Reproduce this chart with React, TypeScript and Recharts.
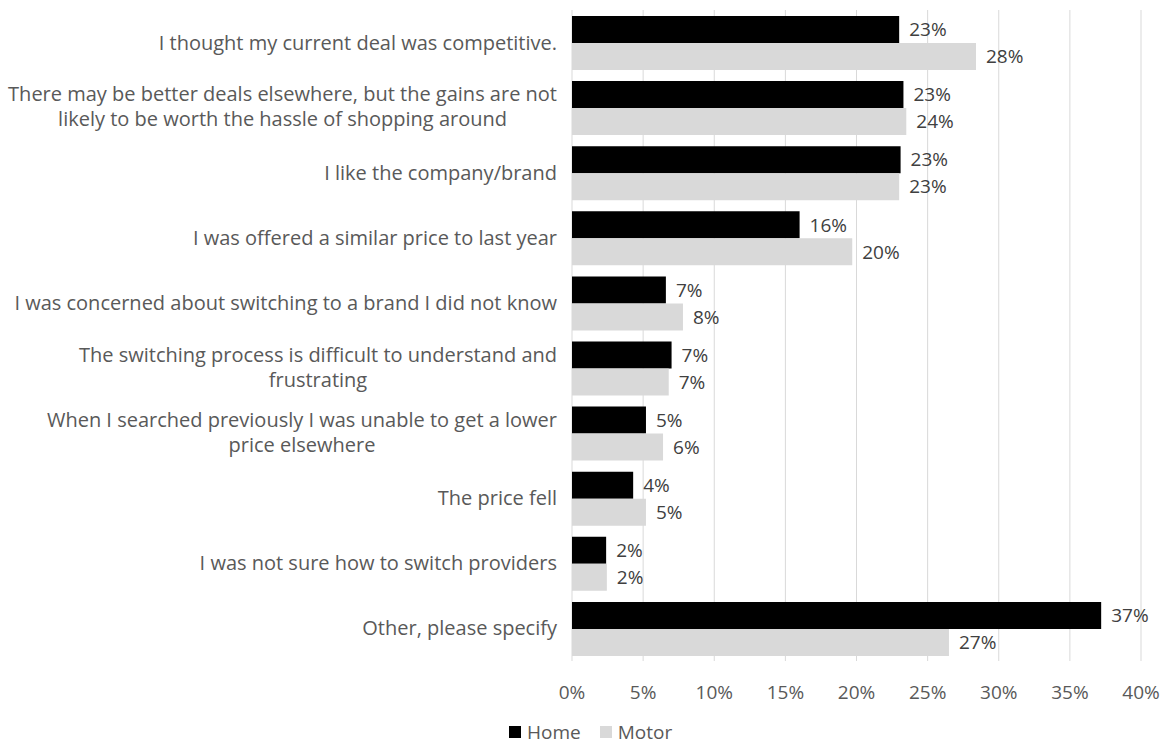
import React from 'react';
import { BarChart, Bar, XAxis, YAxis, CartesianGrid, LabelList, Legend } from 'recharts';

const categories = [
  'I thought my current deal was competitive.',
  'There may be better deals elsewhere, but the gains are not\nlikely to be worth the hassle of shopping around',
  'I like the company/brand',
  'I was offered a similar price to last year',
  'I was concerned about switching to a brand I did not know',
  'The switching process is difficult to understand and\nfrustrating',
  'When I searched previously I was unable to get a lower\nprice elsewhere',
  'The price fell',
  'I was not sure how to switch providers',
  'Other, please specify',
];
const homeValues = [23.0, 23.3, 23.1, 16.0, 6.6, 7.0, 5.2, 4.3, 2.4, 37.2];
const motorValues = [28.4, 23.5, 23.0, 19.7, 7.8, 6.8, 6.4, 5.2, 2.45, 26.5];
const xTicks = [0, 5, 10, 15, 20, 25, 30, 35, 40];
const seriesNames = ['Home', 'Motor'];
const seriesColors = ['#000000', '#d9d9d9'];

const data = categories.map((name, i) => ({ name, home: homeValues[i], motor: motorValues[i] }));

const FONT = 'Open Sans';
const FS = 19;
const CAT_FS = 20;
const TEXT = '#595959';
const LABEL = '#404040';

let ctx: CanvasRenderingContext2D | null = null;
function measure(t: string): number {
  if (!ctx) {
    const c = document.createElement('canvas');
    ctx = c.getContext('2d');
  }
  if (!ctx) return t.length * CAT_FS * 0.5;
  ctx.font = `${CAT_FS}px "${FONT}"`;
  return ctx.measureText(t).width;
}

const YTick = (props: any) => {
  const { x, y, payload } = props;
  const lines: string[] = String(payload.value).split('\n');
  const lh = 25;
  if (lines.length === 1) {
    return (
      <text x={x} y={y} dy="0.35em" textAnchor="end" fill={TEXT} fontSize={CAT_FS} fontFamily={FONT}>
        {lines[0]}
      </text>
    );
  }
  const maxW = Math.max(...lines.map(measure));
  const cx = x - maxW / 2;
  return (
    <g>
      {lines.map((l, i) => (
        <text key={i} x={cx} y={y + (i - (lines.length - 1) / 2) * lh - 1} dy="0.35em" textAnchor="middle" fill={TEXT} fontSize={CAT_FS} fontFamily={FONT}>
          {l}
        </text>
      ))}
    </g>
  );
};

const LegendContent = () => (
  <div style={{ display: 'flex', alignItems: 'center', paddingLeft: 509, paddingTop: 12, height: 24, fontFamily: FONT, fontSize: FS, color: TEXT }}>
    {seriesNames.map((n, i) => (
      <div key={n} style={{ display: 'flex', alignItems: 'center', marginRight: 19 }}>
        <div style={{ width: 12, height: 12, background: seriesColors[i], marginRight: 6 }} />
        <span>{n}</span>
      </div>
    ))}
  </div>
);

export default function App() {
  return (
    <div style={{ position: 'absolute', left: 0, top: 0, width: 1169, height: 744, background: '#fff' }}>
      <BarChart
        width={1169}
        height={744}
        data={data}
        layout="vertical"
        margin={{ top: 10, right: 28, left: 0, bottom: 0 }}
        barSize={27}
        barGap={0}
      >
        <CartesianGrid horizontal={false} vertical={true} stroke="#d9d9d9" />
        <XAxis
          type="number"
          domain={[0, 40]}
          ticks={xTicks}
          tickFormatter={(v: number) => `${v}%`}
          axisLine={false}
          tickLine={false}
          tickMargin={19}
          height={47}
          tick={{ fill: TEXT, fontSize: FS, fontFamily: FONT }}
          interval={0}
        />
        <YAxis
          type="category"
          dataKey="name"
          width={572}
          axisLine={false}
          tickLine={false}
          tickMargin={9}
          tick={<YTick />}
          interval={0}
        />
        <Legend verticalAlign="bottom" height={36} wrapperStyle={{ left: 0, width: 1169 }} content={<LegendContent />} />
        <Bar dataKey="home" name="Home" fill={seriesColors[0]} isAnimationActive={false}>
          <LabelList dataKey="home" position="right" offset={10} formatter={(v: any) => `${Math.round(Number(v))}%`} fill={LABEL} fontSize={FS} fontFamily={FONT} />
        </Bar>
        <Bar dataKey="motor" name="Motor" fill={seriesColors[1]} isAnimationActive={false}>
          <LabelList dataKey="motor" position="right" offset={10} formatter={(v: any) => `${Math.round(Number(v))}%`} fill={LABEL} fontSize={FS} fontFamily={FONT} />
        </Bar>
      </BarChart>
    </div>
  );
}
